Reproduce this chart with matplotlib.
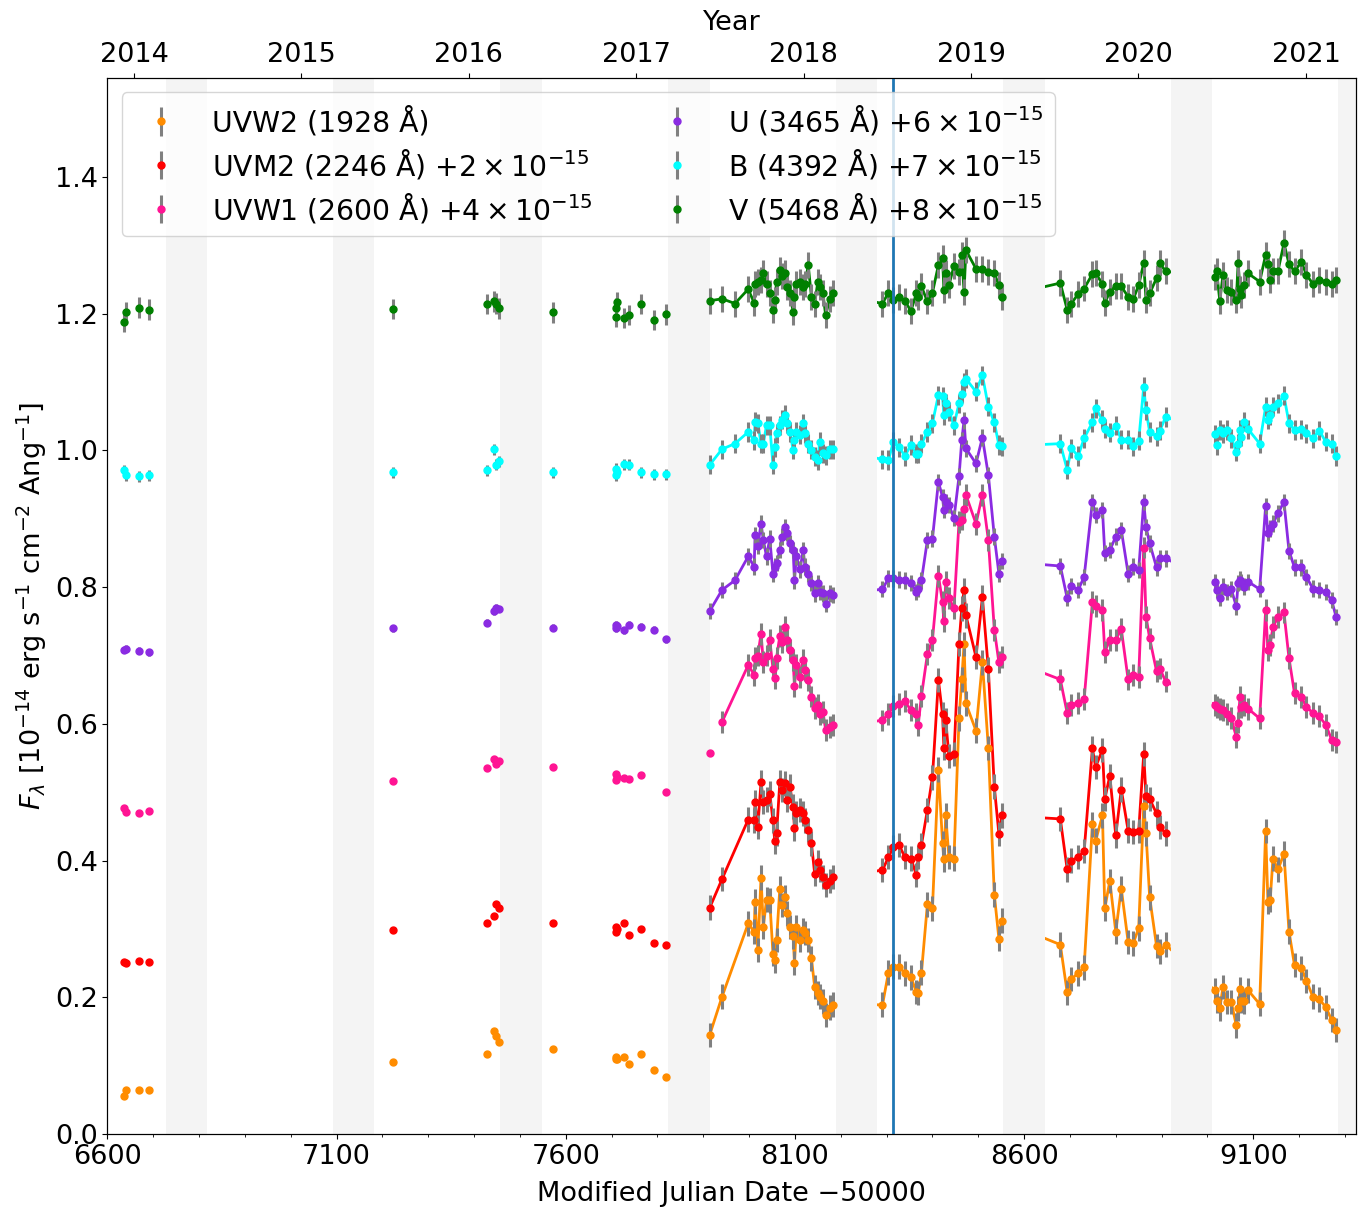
import numpy as np
import matplotlib
matplotlib.use("Agg")
import matplotlib.pyplot as plt

nan = np.nan

# ---------------- data (values as plotted, in 1e-14 erg/s/cm2/A, offsets included) -------------
bands = ["UVW2", "UVM2", "UVW1", "U", "B", "V"]
labels = [r"UVW2 (1928 Å)",
          r"UVM2 (2246 Å) $+2\times10^{-15}$",
          r"UVW1 (2600 Å) $+4\times10^{-15}$",
          r"U (3465 Å) $+6\times10^{-15}$",
          r"B (4392 Å) $+7\times10^{-15}$",
          r"V (5468 Å) $+8\times10^{-15}$"]
colors = ["darkorange", "red", "deeppink", "blueviolet", "cyan", "green"]

# early archival epochs (MJD - 50000), plotted without connecting lines
t_early = [6637, 6641, 6669, 6690, 7222, 7427, 7444, 7448, 7454, 7573,
           7709, 7710, 7712, 7727, 7737, 7765, 7793, 7819, 7914]
uvw2_early = [0.055, 0.064, 0.064, 0.065, 0.106, 0.117, 0.150, 0.144, 0.134, 0.125,
              0.109, 0.112, 0.110, 0.113, 0.103, 0.117, 0.094, 0.084, nan]
uvm2_early = [0.251, 0.250, 0.253, 0.252, 0.299, 0.309, 0.319, 0.336, 0.330, 0.309,
              0.303, 0.296, 0.300, 0.309, 0.291, 0.300, 0.280, 0.277, nan]
uvw1_early = [0.477, 0.471, 0.469, 0.472, 0.517, 0.535, 0.549, 0.542, 0.546, 0.537,
              0.527, 0.518, 0.522, 0.521, 0.519, 0.525, nan, 0.500, 0.557]
u_early = [0.708, 0.710, 0.707, 0.705, 0.740, 0.748, 0.765, 0.770, 0.768, 0.741,
           0.745, 0.740, 0.743, 0.737, 0.745, 0.742, 0.738, 0.724, nan]
b_early = [0.971, 0.964, 0.962, 0.964, 0.968, 0.971, 1.002, 0.979, 0.984, 0.968,
           0.973, 0.964, 0.968, 0.980, 0.979, 0.968, 0.965, 0.965, nan]
v_early = [1.188, 1.202, 1.209, 1.206, 1.207, 1.214, 1.218, 1.215, 1.208, 1.202,
           1.208, 1.196, 1.217, 1.194, 1.198, 1.214, 1.191, 1.199, nan]

# monitoring campaign epochs (MJD - 50000), connected by lines
t_late = [7914, 7941, 7969, 7998, 8011, 8013, 8019, 8026, 8031, 8038, 8045, 8052, 8056, 8060,
          8067, 8071, 8078, 8082, 8089, 8096, 8099, 8103, 8111, 8118, 8122, 8129, 8136, 8143,
          8150, 8154, 8161, 8167, 8176, 8183,
          8291, 8304, 8315, 8327, 8340, 8353, 8365, 8369, 8376, 8389, 8400, 8413, 8422, 8425,
          8429, 8436, 8447, 8458, 8464, 8469, 8473, 8495, 8509, 8522, 8535, 8545, 8551,
          8679, 8694, 8703, 8718, 8731, 8749, 8756, 8771, 8776, 8787, 8800, 8812, 8827, 8838,
          8850, 8861, 8866, 8874, 8889, 8896, 8909,
          9016, 9020, 9027, 9034, 9042, 9052, 9063, 9067, 9071, 9074, 9079, 9089, 9114, 9127,
          9132, 9137, 9143, 9154, 9167, 9178, 9190, 9205, 9216, 9230, 9244, 9258, 9271, 9281]

v_late = [1.219, 1.222, 1.215, 1.236, 1.216, 1.244, 1.247, 1.250, 1.259, 1.243, 1.230, 1.205, 1.220, 1.247,
          1.264, 1.255, 1.259, 1.239, 1.230, 1.203, 1.225, 1.244, 1.247, 1.239, 1.244, 1.271, 1.225, 1.215,
          1.247, 1.239, 1.230, 1.198, 1.222, 1.230,
          1.215, 1.231, 1.220, 1.225, 1.219, 1.204, 1.230, 1.225, 1.240, 1.218, 1.231, 1.271, 1.282, 1.235,
          1.259, 1.242, 1.270, 1.261, 1.286, 1.232, 1.293, 1.266, 1.265, 1.261, 1.259, 1.242, 1.225,
          1.245, 1.206, 1.215, 1.229, 1.237, 1.258, 1.259, 1.244, 1.216, 1.232, 1.241, 1.240, 1.225, 1.221,
          1.242, 1.274, 1.220, 1.230, 1.252, 1.274, 1.262,
          1.254, 1.262, 1.219, 1.257, 1.235, 1.232, 1.220, 1.274, 1.237, 1.227, 1.242, 1.259, 1.247, 1.286,
          1.273, 1.249, 1.262, 1.263, 1.303, 1.273, 1.262, 1.276, 1.257, 1.244, 1.250, 1.247, 1.243, 1.250]
b_late = [0.979, 1.002, 1.010, 1.027, 1.015, 1.042, 1.040, 1.010, 1.010, 1.037, 1.037, 0.979, 1.005, 1.025,
          1.037, 1.045, 1.052, 1.040, 1.027, 1.001, 1.015, 1.027, 1.023, 1.040, 1.025, 1.010, 1.001, 0.991,
          0.986, 1.013, 0.996, 0.993, 1.002, 1.002,
          0.987, 0.986, 1.013, 1.005, 0.992, 1.008, 0.995, 0.995, 1.010, 1.027, 1.040, 1.081, 1.079, 1.052,
          1.069, 1.057, 1.037, 1.069, 1.083, 1.100, 1.105, 1.086, 1.110, 1.064, 1.041, 1.008, 1.006,
          1.010, 0.972, 1.003, 0.992, 1.018, 1.041, 1.062, 1.045, 1.032, 1.026, 1.036, 1.016, 1.016, 1.006,
          1.014, 1.093, 1.059, 1.027, 1.021, 1.029, 1.049,
          1.024, 1.008, 1.030, 1.025, 1.030, 1.018, 0.998, 1.010, 1.030, 1.020, 1.042, 1.031, 1.010, 1.064,
          1.045, 1.052, 1.064, 1.069, 1.080, 1.040, 1.030, 1.031, 1.025, 1.018, 1.029, 1.013, 1.010, 0.992]
u_late = [0.765, 0.796, 0.810, 0.845, 0.830, 0.876, 0.860, 0.893, 0.869, 0.845, 0.871, 0.820, 0.830, 0.835,
          0.854, 0.874, 0.888, 0.879, 0.864, 0.854, 0.810, 0.845, 0.826, 0.854, 0.830, 0.820, 0.806, 0.791,
          0.806, 0.793, 0.791, 0.776, 0.791, 0.789,
          0.797, 0.813, 0.813, 0.811, 0.810, 0.806, 0.793, 0.797, 0.810, 0.869, 0.871, 0.954, 0.932, 0.913,
          0.925, 0.920, 0.901, 0.962, 1.015, 1.044, 1.003, 0.981, 1.019, 0.964, 0.874, 0.820, 0.838,
          0.831, 0.784, 0.802, 0.796, 0.815, 0.925, 0.906, 0.913, 0.850, 0.854, 0.874, 0.884, 0.820, 0.830,
          0.825, 0.925, 0.888, 0.864, 0.829, 0.842, 0.842,
          0.807, 0.796, 0.784, 0.801, 0.793, 0.797, 0.772, 0.806, 0.811, 0.808, 0.801, 0.808, 0.797, 0.919,
          0.879, 0.886, 0.893, 0.908, 0.925, 0.853, 0.829, 0.829, 0.815, 0.798, 0.796, 0.793, 0.781, 0.756]
uvw1_late = [nan, 0.603, nan, 0.686, 0.672, 0.696, 0.700, 0.732, 0.690, 0.700, 0.723, 0.681, 0.667, 0.697,
             0.729, 0.720, 0.742, 0.723, 0.708, 0.693, 0.655, 0.686, 0.669, 0.693, 0.679, 0.664, 0.640, 0.623,
             0.628, 0.615, 0.618, 0.591, 0.596, 0.598,
             0.605, 0.615, 0.626, 0.629, 0.633, 0.620, 0.614, 0.599, 0.641, 0.702, 0.723, 0.817, 0.778, 0.750,
             0.808, 0.784, 0.769, 0.896, 0.899, 0.914, 0.935, 0.893, 0.935, 0.869, 0.738, 0.690, 0.698,
             0.665, 0.616, 0.628, 0.631, 0.636, 0.778, 0.773, 0.767, 0.705, 0.723, 0.723, 0.739, 0.665, 0.672,
             0.668, 0.858, 0.757, 0.725, 0.677, 0.681, 0.662,
             0.628, 0.625, 0.622, 0.620, 0.614, 0.608, 0.581, 0.602, 0.639, 0.625, 0.628, 0.622, 0.608, 0.766,
             0.708, 0.716, 0.742, 0.756, 0.763, 0.696, 0.645, 0.639, 0.625, 0.616, 0.611, 0.599, 0.577, 0.573]
uvm2_late = [0.331, 0.373, nan, 0.460, 0.459, 0.485, 0.449, 0.515, 0.486, 0.489, 0.498, 0.459, 0.428, 0.440,
             0.515, 0.503, 0.513, 0.489, 0.508, 0.479, 0.447, 0.469, 0.474, 0.469, 0.459, 0.445, 0.425, 0.381,
             0.398, 0.386, 0.376, 0.364, 0.370, 0.376,
             0.386, 0.405, 0.420, 0.423, 0.405, 0.403, 0.379, 0.405, 0.423, 0.474, 0.522, 0.664, 0.614, 0.565,
             0.605, 0.553, 0.556, 0.717, 0.769, 0.796, 0.759, 0.698, 0.785, 0.680, 0.508, 0.439, 0.466,
             0.461, 0.387, 0.400, 0.405, 0.414, 0.564, 0.537, 0.562, 0.490, 0.524, 0.437, 0.504, 0.444, 0.442,
             0.443, 0.556, 0.494, 0.490, 0.469, 0.449, 0.440,
             nan, nan, nan, nan, nan, nan, nan, nan, nan, nan, nan, nan, nan, nan,
             nan, nan, nan, nan, nan, nan, nan, nan, nan, nan, nan, nan, nan, nan]
uvw2_late = [0.145, 0.201, nan, 0.308, 0.296, 0.340, 0.269, 0.375, 0.303, 0.343, 0.342, 0.264, 0.254, 0.284,
             0.359, 0.335, 0.347, 0.323, 0.303, 0.289, 0.250, 0.303, 0.284, 0.298, 0.294, 0.284, 0.257, 0.215,
             0.206, 0.201, 0.194, 0.174, 0.185, 0.189,
             0.189, 0.236, 0.245, 0.245, 0.235, 0.229, 0.208, 0.206, 0.236, 0.336, 0.330, 0.533, 0.426, 0.402,
             0.466, 0.405, 0.403, 0.608, 0.665, 0.717, 0.630, 0.590, 0.690, 0.565, 0.350, 0.286, 0.312,
             0.277, 0.207, 0.227, 0.235, 0.244, 0.453, 0.429, 0.466, 0.330, 0.370, 0.296, 0.359, 0.281, 0.279,
             0.301, 0.480, 0.440, 0.346, 0.275, 0.267, 0.277,
             0.210, 0.195, 0.184, 0.215, 0.193, 0.193, 0.159, 0.184, 0.212, 0.195, 0.194, 0.210, 0.190, 0.443,
             0.340, 0.343, 0.403, 0.387, 0.410, 0.296, 0.247, 0.243, 0.224, 0.201, 0.197, 0.186, 0.167, 0.152]

# typical 1-sigma uncertainties per band
err_early = [0.004, 0.004, 0.004, 0.005, 0.008, 0.015]
err_late = [0.018, 0.018, 0.016, 0.012, 0.014, 0.019]

# seasonal Sun-constraint gaps (MJD - 50000)
gap_start = [6728, 7093, 7457, 7823, 8189, 8555, 8920, 9284]
gap_end = [6818, 7182, 7548, 7914, 8280, 8645, 9011, 9375]

vline_mjd = 8315
years = [2014, 2015, 2016, 2017, 2018, 2019, 2020, 2021]
year_mjd = [6658, 7023, 7388, 7754, 8119, 8484, 8849, 9215]

early = [uvw2_early, uvm2_early, uvw1_early, u_early, b_early, v_early]
late = [uvw2_late, uvm2_late, uvw1_late, u_late, b_late, v_late]

# ---------------- plot -------------------------------------------------------------------------
plt.rcParams["font.size"] = 19.5
fig = plt.figure(figsize=(13.71, 12.11), dpi=100)
ax = fig.add_axes([0.0784, 0.0636, 0.9106, 0.872])

te = np.array(t_early, float)
tl = np.array(t_late, float)
for i in range(len(bands)):
    ye = np.array(early[i], float)
    m = ~np.isnan(ye)
    ax.errorbar(te[m], ye[m], yerr=err_early[i], fmt="o", color=colors[i], ecolor="gray",
                elinewidth=2.2, ms=5, zorder=2, label=labels[i])
    yl = np.array(late[i], float)
    m = ~np.isnan(yl)
    if m.any():
        ax.plot(tl[m], yl[m], "-", color=colors[i], lw=2, zorder=1.3)
        ax.errorbar(tl[m], yl[m], yerr=err_late[i], fmt="o", color=colors[i], ecolor="gray",
                    elinewidth=2.2, ms=5, zorder=2)

for s, e in zip(gap_start, gap_end):
    ax.axvspan(s, e, color="#f4f4f4", lw=0, zorder=1.4)

ax.axvline(vline_mjd, color="#1f77b4", lw=2, zorder=3)

ax.set_xlim(6600, 9324)
ax.set_ylim(0, 1.545)
ax.set_xticks(np.arange(6600, 9324, 500))
ax.set_xticks(np.arange(6600, 9324, 100), minor=True)
ax.set_yticks(np.arange(0, 1.41, 0.2))
ax.set_xlabel("Modified Julian Date −50000", labelpad=8)
ax.set_ylabel(r"$F_\lambda$ [$10^{-14}$ erg s$^{-1}$ cm$^{-2}$ Ang$^{-1}$]")

ax2 = ax.twiny()
ax2.set_xlim(ax.get_xlim())
ax2.set_xticks(year_mjd)
ax2.set_xticklabels([str(y) for y in years])
ax2.set_xlabel("Year", labelpad=9)

ax.legend(loc="upper left", ncol=2, fontsize=20.3, labelspacing=0.35)

fig.savefig("out.png", dpi=100)
